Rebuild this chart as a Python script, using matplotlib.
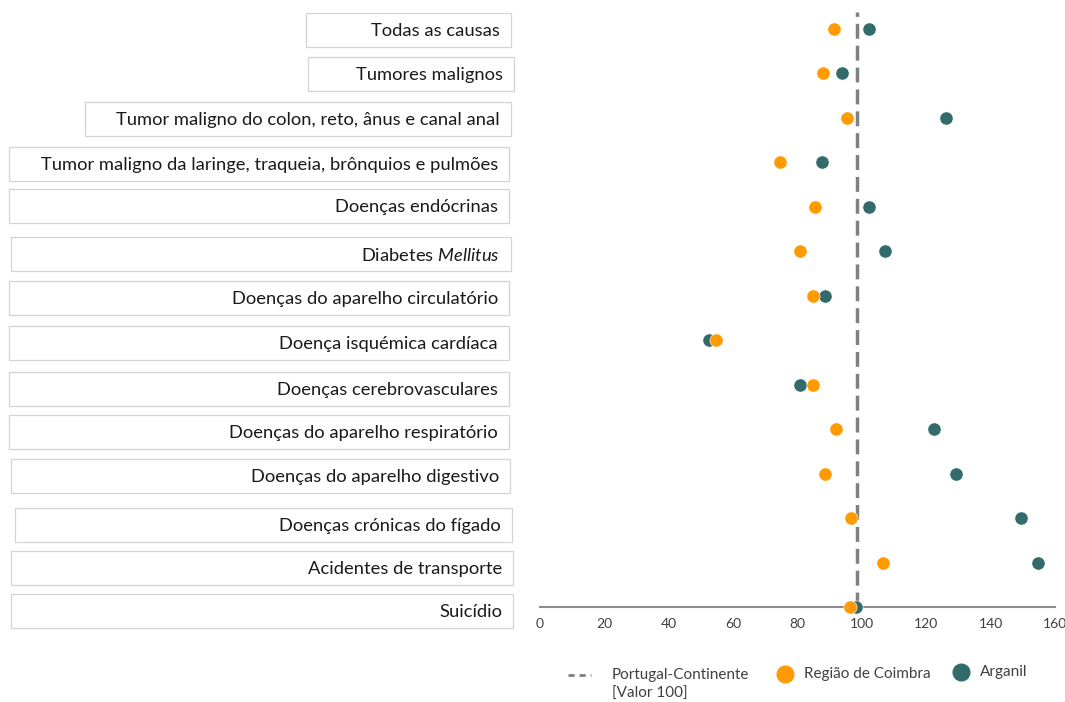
"""
Dot plot: mortalidade padronizada (Portugal-Continente = 100),
Região de Coimbra vs Arganil.
"""

import matplotlib.pyplot as plt
from matplotlib.lines import Line2D
from matplotlib.patches import Rectangle

# ----------------------------------------------------------------------
# Dados
# ----------------------------------------------------------------------
causas = [
    "Todas as causas",
    "Tumores malignos",
    "Tumor maligno do colon, reto, ânus e canal anal",
    "Tumor maligno da laringe, traqueia, brônquios e pulmões",
    "Doenças endócrinas",
    "Diabetes $\\mathit{Mellitus}$",
    "Doenças do aparelho circulatório",
    "Doença isquémica cardíaca",
    "Doenças cerebrovasculares",
    "Doenças do aparelho respiratório",
    "Doenças do aparelho digestivo",
    "Doenças crónicas do fígado",
    "Acidentes de transporte",
    "Suicídio",
]
regiao_coimbra = [91.3, 87.9, 95.3, 74.5, 85.4, 80.7, 84.8, 54.7, 84.8, 91.9, 88.5, 96.6, 106.5, 96.3]
arganil = [102.2, 93.8, 126.1, 87.6, 102.2, 107.1, 88.5, 52.5, 80.7, 122.4, 129.2, 149.4, 154.7, 98.1]
referencia = 98.5
x_ticks = [0, 20, 40, 60, 80, 100, 120, 140, 160]

# ----------------------------------------------------------------------
# Estilo
# ----------------------------------------------------------------------
LARANJA = "#FF9A00"
VERDE = "#336B6B"
CINZA = "#808080"
TEXTO = "#1A1A1A"
FONTE = "Lato"

plt.rcParams["mathtext.fontset"] = "custom"
plt.rcParams["mathtext.rm"] = "Lato"
plt.rcParams["mathtext.it"] = "Lato:italic"

W, H = 1065, 702
fig = plt.figure(figsize=(W / 100, H / 100), dpi=100)
fig.patch.set_facecolor("white")

# eixo do gráfico (pixels: x 540..1055, y 12..607)
ax = fig.add_axes([540 / W, 1 - 607 / H, (1055 - 540) / W, (607 - 12) / H])
n = len(causas)
ys = [n - 1 - i for i in range(n)]  # primeira categoria no topo

ax.plot(arganil, ys, "o", color=VERDE, ms=9.5, mec="white", mew=0.4, zorder=3, clip_on=False)
ax.plot(regiao_coimbra, ys, "o", color=LARANJA, ms=9.5, mec="white", mew=0.4, zorder=4, clip_on=False)
ax.axvline(referencia, color=CINZA, lw=2.5, ls=(0, (4.3, 2)), zorder=2)

ax.set_xlim(0, 160)
ax.set_ylim(0, (607 - 12) / 44.5)
ax.set_xticks(x_ticks)
ax.set_xticklabels([str(t) for t in x_ticks], fontsize=10, color="#404040", family=FONTE)
ax.tick_params(axis="x", length=0, pad=8)
ax.set_yticks([])
for s in ["top", "right", "left"]:
    ax.spines[s].set_visible(False)
ax.spines["bottom"].set_color("#8C8C8C")
ax.spines["bottom"].set_linewidth(1.5)
ax.spines["bottom"].set_zorder(1)
ax.set_facecolor("none")

# ----------------------------------------------------------------------
# Caixas com as categorias (à esquerda)
# ----------------------------------------------------------------------
caixa_esq = [306, 308, 85, 9, 9, 11, 9, 9, 9, 9, 11, 15, 11, 11]
caixa_dir = [511, 514, 511, 509, 509, 511, 509, 509, 509, 509, 510, 512, 513, 513]
caixa_top = [13, 57, 102, 147, 189, 237, 281, 326, 372, 415, 459, 508, 551, 594]
caixa_alt = 34

for nome, x0, x1, y0 in zip(causas, caixa_esq, caixa_dir, caixa_top):
    rect = Rectangle((x0 / W, 1 - (y0 + caixa_alt) / H), (x1 - x0) / W, caixa_alt / H,
                     transform=fig.transFigure, facecolor="white",
                     edgecolor="#D4D4D4", lw=0.9)
    fig.add_artist(rect)
    fig.text((x1 - 11) / W, 1 - (y0 + caixa_alt / 2 + 1) / H, nome,
             ha="right", va="center", fontsize=13.2, color=TEXTO, family=FONTE)

# ----------------------------------------------------------------------
# Legenda (manual)
# ----------------------------------------------------------------------
fig.add_artist(Line2D([568 / W, 591 / W], [1 - 675 / H] * 2, transform=fig.transFigure,
                      color=CINZA, lw=2, ls=(0, (2.2, 1.8))))
fig.text(612 / W, 1 - 675 / H, "Portugal-Continente", ha="left", va="center",
         fontsize=11, color="#404040", family=FONTE)
fig.text(612 / W, 1 - 694 / H, "[Valor 100]", ha="left", va="center",
         fontsize=11, color="#404040", family=FONTE)

fig.add_artist(Line2D([785 / W], [1 - 674 / H], transform=fig.transFigure, marker="o",
                      color=LARANJA, ms=12, ls="none"))
fig.text(804 / W, 1 - 674 / H, "Região de Coimbra", ha="left", va="center",
         fontsize=11, color="#404040", family=FONTE)

fig.add_artist(Line2D([961 / W], [1 - 672 / H], transform=fig.transFigure, marker="o",
                      color=VERDE, ms=12, ls="none"))
fig.text(980 / W, 1 - 672 / H, "Arganil", ha="left", va="center",
         fontsize=11, color="#404040", family=FONTE)

fig.savefig("out.png", dpi=100, facecolor="white")
plt.close(fig)
